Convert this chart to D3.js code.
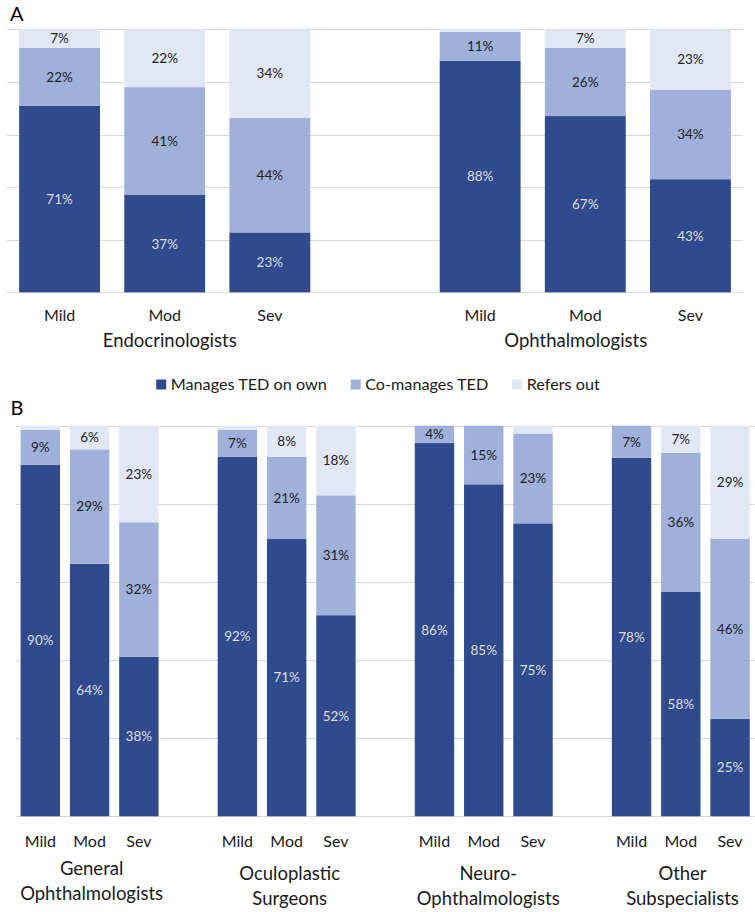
<!DOCTYPE html>
<html>
<head>
<meta charset="utf-8">
<script src="https://cdn.jsdelivr.net/npm/d3@7"></script>
<style>
  html, body { margin: 0; padding: 0; background: #fff; }
  svg { display: block; font-family: Lato, "Open Sans", sans-serif; }
</style>
</head>
<body>
<svg id="chart" width="755" height="912"></svg>
<script>
// ---------- data ----------
const severities = ["Mild", "Mod", "Sev"];
const seriesNames = ["Manages TED on own", "Co-manages TED", "Refers out"];
const seriesKeys = ["manage", "comanage", "refers"];

// Panel A
const groupsA = ["Endocrinologists", "Ophthalmologists"];
const manageA   = [71, 37, 23, 88, 67, 43];
const comanageA = [22, 41, 44, 11, 26, 34];
const refersA   = [ 7, 22, 34,  1,  7, 23];

// Panel B
const groupsB = [["General", "Ophthalmologists"], ["Oculoplastic", "Surgeons"],
                 ["Neuro-", "Ophthalmologists"], ["Other", "Subspecialists"]];
const manageB   = [90, 64, 38, 92, 71, 52, 86, 85, 75, 78, 58, 25];
const comanageB = [ 9, 29, 32,  7, 21, 31,  4, 15, 23,  7, 36, 46];
const refersB   = [ 1,  6, 23,  1,  8, 18,  0,  0,  2,  0,  7, 29];

const yTicks = [0, 0.2, 0.4, 0.6, 0.8, 1.0];

// ---------- styles ----------
const colors = ["#2f4b8e", "#9fb1da", "#e1e7f4"];
const labelColors = ["#dedede", "#222222", "#222222"];
const gridColor = "#d9d9d9";

const svg = d3.select("#chart");

function buildRows(groups, manage, comanage, refers) {
  const rows = [];
  const slots = [];
  let k = 0;
  groups.forEach((g, gi) => {
    if (gi > 0) slots.push("blank" + gi);
    severities.forEach(s => {
      const key = gi + "-" + s;
      slots.push(key);
      rows.push({ key, group: gi, sev: s, manage: manage[k], comanage: comanage[k], refers: refers[k] });
      k++;
    });
  });
  return { rows, slots };
}

function drawPanel(opt) {
  const { rows, slots } = buildRows(opt.groups, opt.manage, opt.comanage, opt.refers);
  const x = d3.scaleBand().domain(slots).range(opt.xRange)
    .paddingInner(opt.pad).paddingOuter(opt.pad / 2);
  const y = d3.scaleLinear().domain([0, 1]).range(opt.yRange);

  const g = svg.append("g");

  // gridlines
  g.append("g").selectAll("line").data(yTicks).join("line")
    .attr("x1", opt.xRange[0]).attr("x2", opt.xRange[1])
    .attr("y1", d => Math.round(y(d)) + 0.5).attr("y2", d => Math.round(y(d)) + 0.5)
    .attr("stroke", gridColor).attr("stroke-width", 1);

  const stack = d3.stack().keys(seriesKeys).offset(d3.stackOffsetExpand);
  const series = stack(rows);

  series.forEach((s, si) => {
    const sg = g.append("g");
    sg.selectAll("rect").data(s).join("rect")
      .attr("x", d => x(d.data.key))
      .attr("width", x.bandwidth())
      .attr("y", d => y(d[1]))
      .attr("height", d => Math.max(0, y(d[0]) - y(d[1])))
      .attr("fill", colors[si]);
    sg.selectAll("text").data(s.filter(d => d.data[seriesKeys[si]] >= 3)).join("text")
      .attr("x", d => x(d.data.key) + x.bandwidth() / 2)
      .attr("y", d => (y(d[0]) + y(d[1])) / 2)
      .attr("dy", "0.36em")
      .attr("text-anchor", "middle")
      .attr("font-size", opt.valueFont)
      .attr("fill", labelColors[si])
      .text(d => d.data[seriesKeys[si]] + "%");
  });

  // category labels
  g.append("g").selectAll("text").data(rows).join("text")
    .attr("x", d => x(d.key) + x.bandwidth() / 2)
    .attr("y", opt.catY)
    .attr("text-anchor", "middle")
    .attr("font-size", 16)
    .attr("fill", "#1a1a1a")
    .text(d => d.sev);

  // group labels
  opt.groups.forEach((grp, gi) => {
    const cx = x(gi + "-Mod") + x.bandwidth() / 2 + opt.groupNudge[gi];
    const lines = Array.isArray(grp) ? grp : [grp];
    lines.forEach((ln, li) => {
      g.append("text")
        .attr("x", cx)
        .attr("y", opt.groupY[gi] + li * opt.lineH)
        .attr("text-anchor", "middle")
        .attr("font-size", 18.5)
        .attr("fill", "#1a1a1a")
        .text(ln);
    });
  });
}

drawPanel({
  groups: groupsA, manage: manageA, comanage: comanageA, refers: refersA,
  xRange: [7, 743], yRange: [292.3, 29.3], pad: 0.3 / 1.3,
  valueFont: 13.5, catY: 320.5, groupY: [346.5, 346.5], groupNudge: [5, -9.5], lineH: 0
});

drawPanel({
  groups: groupsB, manage: manageB, comanage: comanageB, refers: refersB,
  xRange: [15.7, 754.7], yRange: [816.3, 425.7], pad: 0.2,
  valueFont: 13.5, catY: 846.5, groupY: [875, 880, 880, 880], groupNudge: [2, 3, 4.5, 1.7], lineH: 24.5
});

// panel letters
svg.append("text").attr("x", 10).attr("y", 21).attr("font-size", 20).attr("fill", "#000").text("A");
svg.append("text").attr("x", 10.5).attr("y", 415).attr("font-size", 20).attr("fill", "#000").text("B");

// legend
const legend = svg.append("g");
const items = legend.selectAll("g").data(seriesNames).join("g");
items.append("rect").attr("width", 10).attr("height", 10).attr("y", 379.5)
  .attr("fill", (d, i) => colors[i]);
items.append("text").attr("x", 14.5).attr("y", 389.5)
  .attr("font-size", 16.2).attr("fill", "#1a1a1a").text(d => d);
const widths = [];
items.each(function (d, i) {
  const w = 14.5 + d3.select(this).select("text").node().getComputedTextLength();
  widths.push(w);
});
const gap = 24;
const total = d3.sum(widths) + gap * (widths.length - 1);
let start = 378 - total / 2;
items.attr("transform", (d, i) => {
  const t = `translate(${start},0)`;
  start += widths[i] + gap;
  return t;
});
</script>
</body>
</html>
